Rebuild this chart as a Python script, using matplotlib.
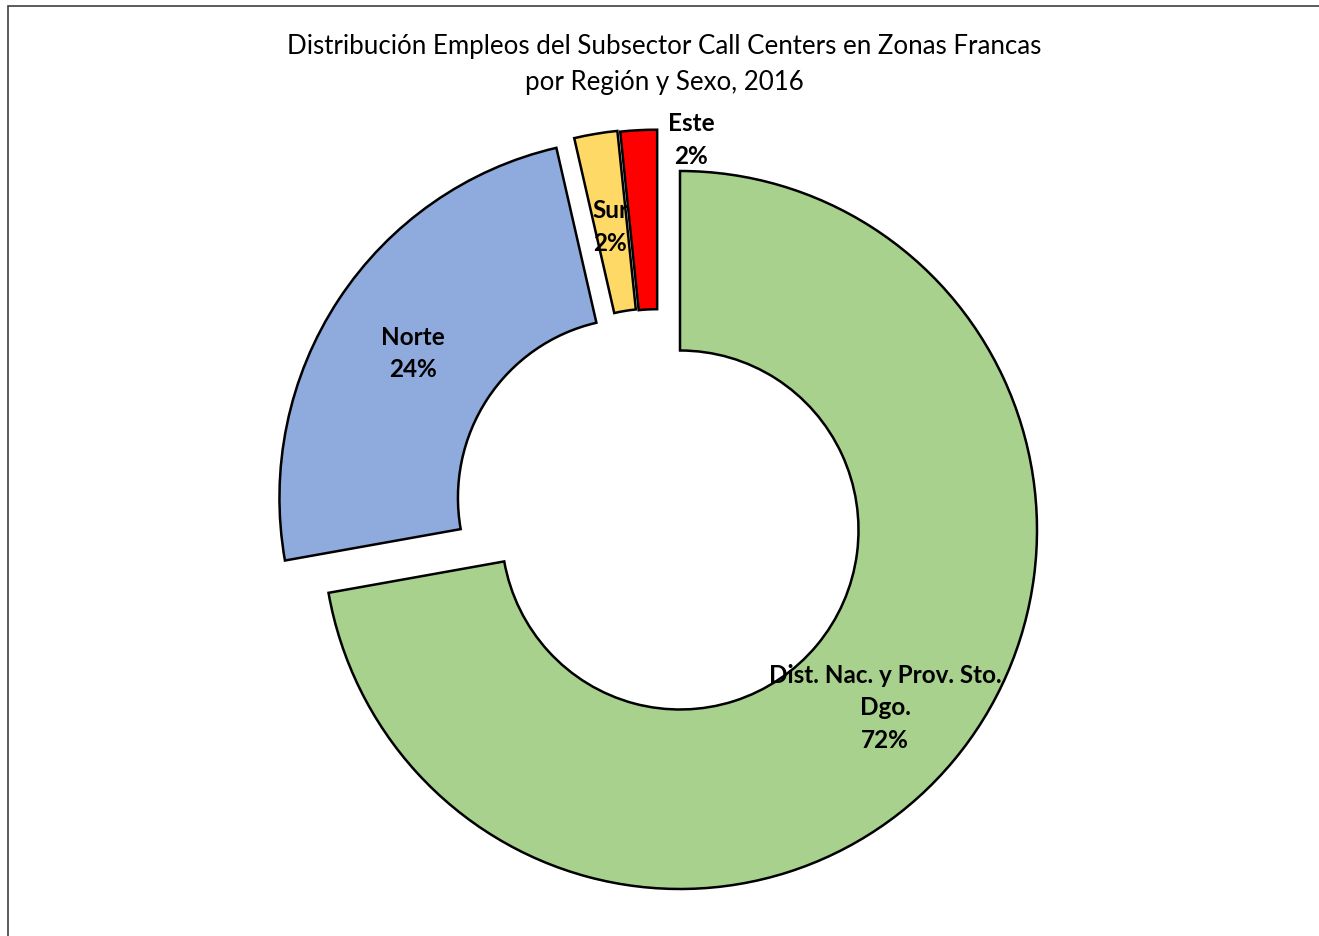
import matplotlib.pyplot as plt
from matplotlib.patches import Rectangle

# Datos
regiones = ["Dist. Nac. y Prov. Sto.\nDgo.", "Norte", "Sur", "Este"]
porcentajes = [72.2, 24.2, 1.95, 1.65]
etiquetas_pct = ["72%", "24%", "2%", "2%"]
colores = ["#A9D18E", "#8FAADC", "#FFD966", "#FF0000"]

titulo = ("Distribución Empleos del Subsector Call Centers en Zonas Francas\n"
          "por Región y Sexo, 2016")

# desplazamientos de las porciones separadas (unidades de radio)
desplazamientos = [(0, 0), (-0.122, 0.090), (-0.072, 0.117), (-0.064, 0.115)]

W, H = 1319, 937
cx, cy, Rx, Ry = 680, 531, 357, 359

fig = plt.figure(figsize=(W / 100, H / 100), dpi=100)
ax = fig.add_axes([0, 0, 1, 1])

textos = [f"{r}\n{p}" for r, p in zip(regiones, etiquetas_pct)]
cunas, etiquetas = ax.pie(
    porcentajes, labels=textos, colors=colores, startangle=90,
    counterclock=False, labeldistance=0.75,
    wedgeprops=dict(width=0.5, edgecolor="black", linewidth=1.8),
    textprops=dict(fontsize=17.5, fontweight="bold", family="Lato",
                   ha="center", va="center", linespacing=1.5),
)

for cuna, txt, (dx, dy) in zip(cunas, etiquetas, desplazamientos):
    cuna.set_center((dx, dy))
    x, y = txt.get_position()
    txt.set_position((x + dx, y + dy - 0.01))
    txt.set_ha("center")
    txt.set_va("center")

# la etiqueta de Este queda fuera del anillo
etiquetas[3].set_position(((691 - cx) / Rx, (cy - 140) / Ry))

ax.set_xlim((0 - cx) / Rx, (W - cx) / Rx)
ax.set_ylim((cy - H) / Ry, cy / Ry)
ax.set_aspect("auto")
ax.axis("off")

fig.text(664 / W, 1 - 64.5 / H, titulo, ha="center", va="center",
         fontsize=18.6, family="Lato", linespacing=1.55)

fig.add_artist(Rectangle((8 / W, -0.1), 1.2, 1.1 - 7 / H,
                         transform=fig.transFigure, fill=False,
                         edgecolor="#404040", linewidth=1.2))

fig.savefig("out.png", dpi=100)
